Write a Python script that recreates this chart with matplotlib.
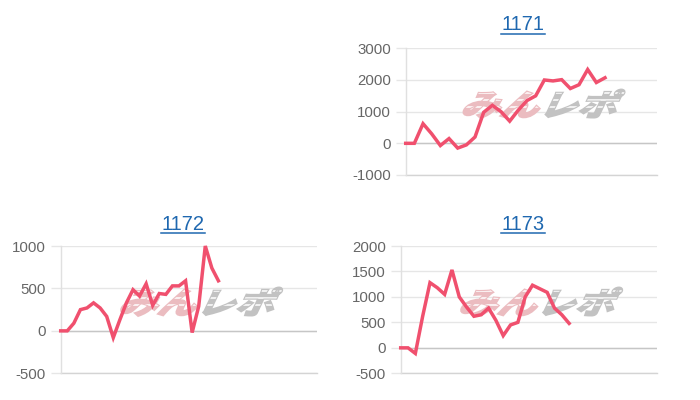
import matplotlib
matplotlib.use("Agg")
import matplotlib.pyplot as plt
from matplotlib.textpath import TextPath
from matplotlib.patches import PathPatch
from matplotlib.font_manager import FontProperties
from matplotlib.transforms import Affine2D, ScaledTranslation
from matplotlib.lines import Line2D

plt.rcParams['font.family'] = ['Liberation Sans', 'DejaVu Sans']
plt.rcParams['axes.unicode_minus'] = False

# machine numbers and their slump data (差枚)
machines = ['1171', '1172', '1173']
slump_1171 = [0, 0, 620, 300, -70, 150, -150, -50, 200, 980, 1200, 1000, 700,
              1050, 1350, 1500, 2000, 1970, 2010, 1730, 1850, 2330, 1920, 2070]
slump_1172 = [0, 0, 90, 250, 270, 330, 270, 170, -80, 130, 330, 485, 410, 555,
              300, 440, 430, 530, 530, 590, -20, 290, 1000, 740, 590]
slump_1173 = [0, 0, -110, 620, 1280, 1180, 1050, 1530, 1000, 800, 620, 650,
              780, 540, 240, 450, 500, 1000, 1230, 1160, 1090, 780, 650, 480]
# number of x slots on each chart's category axis
slots_1171 = 30
slots_1172 = 40
slots_1173 = 36
# y axis ranges / steps
yrange_1171 = (-1000, 3000, 1000)
yrange_1172 = (-500, 1000, 500)
yrange_1173 = (-500, 2000, 500)

W, H = 700, 400
LINE_COLOR = '#f0506e'
LINK_COLOR = '#1f68b0'

fig = plt.figure(figsize=(7, 4), dpi=100)
fig.patch.set_facecolor('white')

wm_font = FontProperties(family='Noto Sans CJK JP', weight='bold')


def add_watermark(ax):
    # "みんレポ" logo in the chart background (bold, slanted, striped)
    anchor = ScaledTranslation(0.525, 0.563, ax.transAxes)
    for i, (txt, col) in enumerate([('みん', '#ebbcc0'), ('レポ', '#c2c2c2')]):
        tp = TextPath((0, 0), txt, size=1, prop=wm_font)
        tr = (Affine2D().skew_deg(20, 0).scale(39, 30).translate(-78 + i * 78, -12)
              + anchor)
        patch = PathPatch(tp, transform=tr, facecolor=col, edgecolor=col, lw=1.6,
                          zorder=1.5, clip_on=False)
        ax.add_patch(patch)
        # speed-line stripes cut through the letters
        for sy in (-3, 4, 11):
            stripe = Line2D([-90 + i * 78, -90 + (i + 1) * 78 + 20], [sy, sy],
                            transform=Affine2D() + anchor, color='white', lw=1.1,
                            zorder=1.6)
            ax.add_line(stripe)
            stripe.set_clip_path(patch)


def make_chart(px_box, values, slots, yr, title, title_xy):
    x0, x1, y0, y1 = px_box  # pixel box: left, right, top, bottom
    ax = fig.add_axes([x0 / W, 1 - y1 / H, (x1 - x0) / W, (y1 - y0) / H])
    lo, hi, step = yr
    ax.set_ylim(lo, hi)
    ax.set_xlim(0, slots - 1)
    ax.set_yticks(range(lo, hi + 1, step))
    ax.set_xticks([])
    ax.set_axisbelow(True)
    ax.yaxis.grid(True, color='#e6e6e6', lw=1)
    ax.axhline(0, color='#c6c6c6', lw=1, zorder=1)
    ax.axhline(lo, color='#d4d4d4', lw=1, zorder=1, clip_on=False)
    for s in ['top', 'right', 'bottom']:
        ax.spines[s].set_visible(False)
    ax.spines['left'].set_color('#e0e0e0')
    ax.spines['left'].set_linewidth(1)
    ax.tick_params(axis='y', length=7.5, width=1, color='#e6e6e6',
                   labelcolor='#666666', labelsize=10.8, pad=3)
    add_watermark(ax)
    ax.plot(range(len(values)), values, color=LINE_COLOR, lw=2.5,
            solid_joinstyle='miter', zorder=3, clip_on=False)

    tx, ty = title_xy
    fig.text(tx / W, 1 - ty / H, title, ha='center', va='center',
             color=LINK_COLOR, fontsize=14.5)
    fig.add_artist(Line2D([(tx - 22) / W, (tx + 22) / W],
                          [1 - (ty + 9) / H, 1 - (ty + 9) / H],
                          transform=fig.transFigure, color=LINK_COLOR, lw=1.1))
    return ax


make_chart((405.7, 657, 48.3, 175), slump_1171, slots_1171, yrange_1171,
           machines[0], (523, 25))
make_chart((60.7, 317, 246, 373.3), slump_1172, slots_1172, yrange_1172,
           machines[1], (183, 224))
make_chart((400.7, 657, 246, 373.3), slump_1173, slots_1173, yrange_1173,
           machines[2], (523, 224))

fig.savefig('out.png', dpi=100)
